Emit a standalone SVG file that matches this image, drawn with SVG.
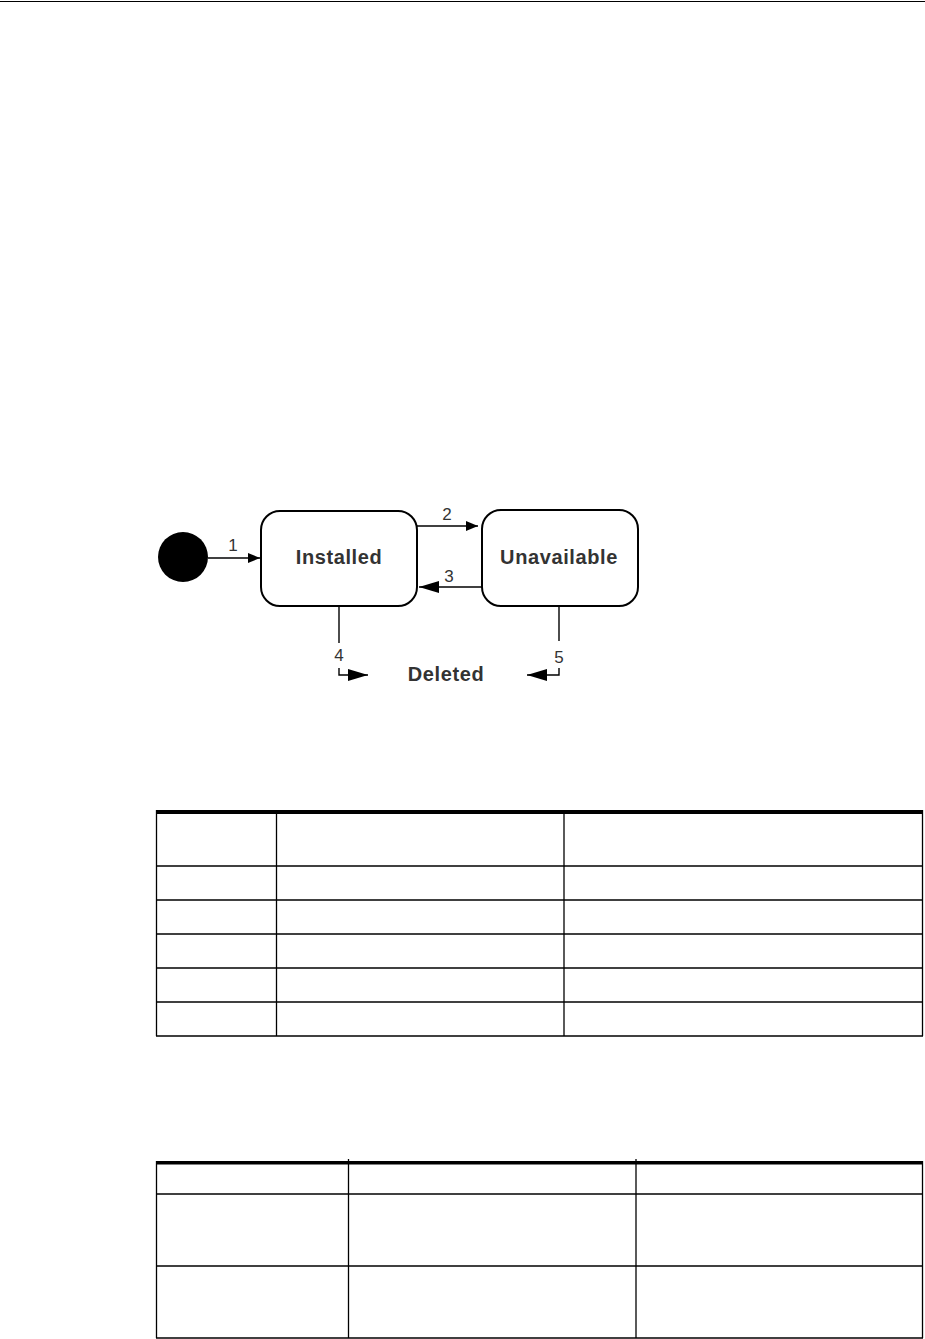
<svg xmlns="http://www.w3.org/2000/svg" width="925" height="1339" viewBox="0 0 925 1339">
<defs>
<marker id="ah" markerWidth="12" markerHeight="10" refX="12" refY="5" orient="auto" markerUnits="userSpaceOnUse">
<path d="M0,0 L12,5 L0,10 Z" fill="#000"/>
</marker>
<marker id="ahb" markerWidth="20" markerHeight="12" refX="20" refY="6" orient="auto" markerUnits="userSpaceOnUse">
<path d="M0,0 L20,6 L0,12 Z" fill="#000"/>
</marker>
<style>
.state{fill:#fff;stroke:#000;stroke-width:2}
.stext{font-family:"Liberation Sans",Arial,sans-serif;font-weight:bold;font-size:20px;letter-spacing:0.6px;fill:#333;text-anchor:middle}
.lbl{font-family:"Liberation Sans",Arial,sans-serif;font-size:17px;fill:#333;text-anchor:middle}
.conn{stroke:#000;stroke-width:1.4;fill:none}
.tl{stroke:#000;stroke-width:1.3;fill:none}
.tbar{fill:#000}
</style>
</defs>
<rect width="925" height="1339" fill="#fff"/>
<line x1="0" y1="1.5" x2="925" y2="1.5" stroke="#000" stroke-width="1"/>

<g id="start">
<circle cx="183" cy="557" r="25" fill="#000"/>
</g>
<g id="installed">
<rect class="state" x="261" y="511" width="156" height="95" rx="19"/>
<text class="stext" x="339" y="564">Installed</text>
</g>
<g id="unavailable">
<rect class="state" x="482" y="510" width="156" height="96" rx="19"/>
<text class="stext" x="559" y="564">Unavailable</text>
</g>
<g id="deleted">
<text class="stext" x="446" y="681">Deleted</text>
</g>

<g id="connectors">
<line class="conn" x1="208" y1="558" x2="260" y2="558" marker-end="url(#ah)"/>
<text class="lbl" x="233" y="551">1</text>
<line class="conn" x1="417" y1="526" x2="478" y2="526" marker-end="url(#ah)"/>
<text class="lbl" x="447" y="520">2</text>
<line class="conn" x1="482" y1="587" x2="419" y2="587" marker-end="url(#ahb)"/>
<text class="lbl" x="449" y="582">3</text>
<line class="conn" x1="339" y1="606" x2="339" y2="643"/>
<text class="lbl" x="339" y="661">4</text>
<path class="conn" d="M339,668 V675 H368" marker-end="url(#ahb)"/>
<line class="conn" x1="559" y1="606" x2="559" y2="641"/>
<text class="lbl" x="559" y="663">5</text>
<path class="conn" d="M559,668 V675 H527" marker-end="url(#ahb)"/>
</g>

<g id="table1">
<rect class="tbar" x="156" y="810" width="767" height="4"/>
<line class="tl" x1="156.5" y1="810" x2="156.5" y2="1036"/>
<line class="tl" x1="922.5" y1="810" x2="922.5" y2="1036"/>
<line class="tl" x1="276.5" y1="810" x2="276.5" y2="1036"/>
<line class="tl" x1="564" y1="810" x2="564" y2="1036"/>
<line class="tl" x1="156" y1="866" x2="923" y2="866"/>
<line class="tl" x1="156" y1="900" x2="923" y2="900"/>
<line class="tl" x1="156" y1="934" x2="923" y2="934"/>
<line class="tl" x1="156" y1="968" x2="923" y2="968"/>
<line class="tl" x1="156" y1="1002" x2="923" y2="1002"/>
<line class="tl" x1="156" y1="1036" x2="923" y2="1036"/>
</g>

<g id="table2">
<rect class="tbar" x="156" y="1161" width="767" height="3.5"/>
<line class="tl" x1="156.5" y1="1161" x2="156.5" y2="1338"/>
<line class="tl" x1="922.5" y1="1161" x2="922.5" y2="1338"/>
<line class="tl" x1="348.5" y1="1159" x2="348.5" y2="1338"/>
<line class="tl" x1="636" y1="1159" x2="636" y2="1338"/>
<line class="tl" x1="156" y1="1194" x2="923" y2="1194"/>
<line class="tl" x1="156" y1="1266" x2="923" y2="1266"/>
<line class="tl" x1="156" y1="1338" x2="923" y2="1338"/>
</g>
</svg>
